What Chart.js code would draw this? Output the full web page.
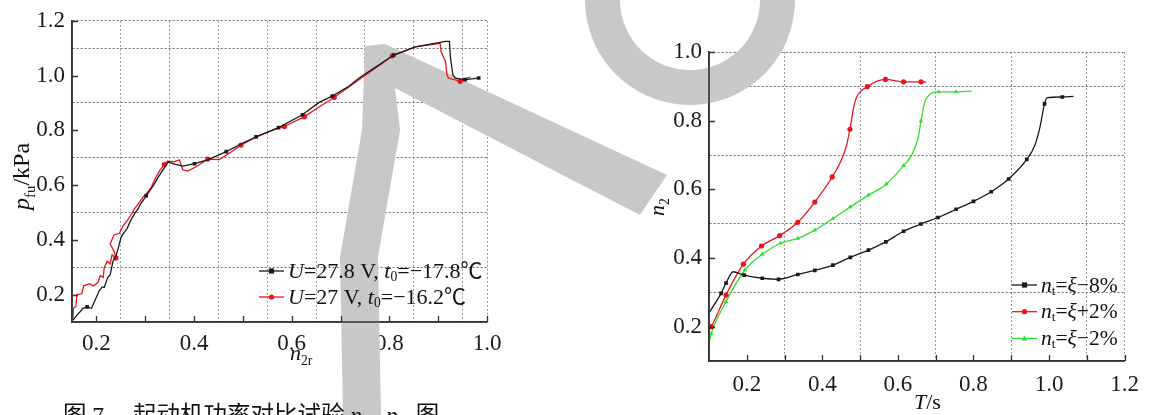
<!DOCTYPE html>
<html>
<head>
<meta charset="utf-8">
<title>起动机功率对比试验</title>
<script src="https://cdn.jsdelivr.net/npm/chart.js@4.4.1/dist/chart.umd.min.js"></script>
<style>
    html, body { margin: 0; padding: 0; background: #fff; overflow: hidden; }
    #wrap { position: relative; width: 1149px; height: 415px; }
    canvas { position: absolute; top: 0; }
    #left { left: 0; }
    #right { left: 580px; }
</style>
</head>
<body>
<div id="wrap">
    <canvas id="left" width="580" height="415"></canvas>
    <canvas id="right" width="569" height="415"></canvas>
</div>
<script>
// ---- left chart: n2r vs p_fu ----
const blackL = [
    [0.152,0.107],[0.160,0.125],[0.168,0.140],[0.172,0.150],[0.181,0.155],[0.190,0.150],[0.196,0.175],
    [0.206,0.215],[0.212,0.228],[0.216,0.226],[0.223,0.262],[0.228,0.272],[0.234,0.322],[0.240,0.340],
    [0.244,0.365],[0.251,0.412],[0.258,0.430],[0.263,0.442],[0.270,0.470],[0.278,0.495],[0.285,0.512],
    [0.290,0.530],[0.302,0.561],[0.310,0.582],[0.318,0.602],[0.326,0.627],[0.336,0.655],[0.347,0.684],
    [0.362,0.676],[0.377,0.669],[0.401,0.678],[0.428,0.692],[0.466,0.722],[0.496,0.750],[0.527,0.776],
    [0.573,0.810],[0.622,0.857],[0.656,0.902],[0.683,0.925],[0.717,0.961],[0.738,0.991],[0.779,1.039],
    [0.809,1.075],[0.853,1.105],[0.915,1.125],[0.923,1.125],[0.925,1.069],[0.930,1.003],[0.935,0.991],
    [0.955,0.985],[0.983,0.991]
];
const blackDotsL = [0.181, 0.302, 0.401, 0.466, 0.527, 0.573, 0.622, 0.683, 0.809, 0.955, 0.983];

const redL = [
    [0.152,0.112],[0.153,0.150],[0.158,0.158],[0.160,0.200],[0.170,0.203],[0.174,0.232],[0.186,0.240],
    [0.194,0.232],[0.203,0.244],[0.208,0.270],[0.214,0.262],[0.216,0.298],[0.222,0.322],[0.228,0.312],
    [0.232,0.345],[0.240,0.334],[0.236,0.360],[0.228,0.385],[0.236,0.418],[0.247,0.424],[0.254,0.450],
    [0.261,0.466],[0.270,0.488],[0.278,0.513],[0.286,0.532],[0.295,0.555],[0.304,0.572],[0.312,0.591],
    [0.320,0.622],[0.329,0.651],[0.339,0.675],[0.346,0.687],[0.360,0.686],[0.370,0.692],[0.377,0.656],
    [0.387,0.651],[0.405,0.668],[0.428,0.695],[0.452,0.693],[0.475,0.720],[0.496,0.746],[0.527,0.776],
    [0.560,0.800],[0.585,0.814],[0.626,0.850],[0.660,0.890],[0.687,0.920],[0.750,1.000],[0.806,1.072],
    [0.853,1.105],[0.901,1.117],[0.904,1.117],[0.906,1.087],[0.915,1.051],[0.918,1.003],[0.921,0.991],
    [0.945,0.979],[0.955,0.988],[0.966,0.994]
];
const redDotsL = [0.240, 0.339, 0.428, 0.496, 0.585, 0.626, 0.687, 0.806, 0.945];

const nTicksL = [0.2, 0.4, 0.6, 0.8, 1.0];
const nGridL = [0.25, 0.35, 0.45, 0.55, 0.65, 0.75, 0.85, 0.95, 1.0];
const nMarksL = [0.2, 0.3, 0.4, 0.5, 0.6, 0.7, 0.8, 0.9, 1.0];
const pTicksL = [0.2, 0.4, 0.6, 0.8, 1.0, 1.2];
const pGridL = [0.3, 0.5, 0.7, 0.9, 1.1, 1.2];

// ---- right chart: T vs n2 ----
const black8 = [
    [0.100,0.240],[0.132,0.297],[0.145,0.327],[0.164,0.360],[0.193,0.350],[0.241,0.341],[0.284,0.338],
    [0.335,0.352],[0.380,0.364],[0.428,0.379],[0.474,0.402],[0.522,0.423],[0.568,0.447],[0.615,0.478],
    [0.661,0.499],[0.706,0.518],[0.754,0.542],[0.800,0.565],[0.847,0.593],[0.893,0.630],[0.941,0.687],
    [0.963,0.730],[0.976,0.782],[0.988,0.849],[0.995,0.867],[1.035,0.869],[1.065,0.871]
];
const black8Dots = [0.132, 0.145, 0.193, 0.241, 0.284, 0.335, 0.380, 0.428, 0.474, 0.522, 0.568, 0.615,
    0.661, 0.706, 0.754, 0.800, 0.847, 0.893, 0.941, 0.988, 1.035];

const red2 = [
    [0.100,0.190],[0.106,0.200],[0.145,0.292],[0.191,0.382],[0.239,0.435],[0.287,0.465],[0.335,0.504],
    [0.380,0.563],[0.426,0.636],[0.450,0.685],[0.463,0.724],[0.473,0.775],[0.484,0.845],[0.491,0.869],
    [0.519,0.899],[0.567,0.920],[0.615,0.913],[0.661,0.913],[0.675,0.913]
];
const red2Dots = [0.106, 0.145, 0.191, 0.239, 0.287, 0.335, 0.380, 0.426, 0.473, 0.519, 0.567, 0.615, 0.661];

const green2 = [
    [0.100,0.325],[0.1015,0.160],[0.106,0.180],[0.145,0.273],[0.195,0.365],[0.241,0.411],[0.289,0.443],
    [0.335,0.457],[0.380,0.481],[0.428,0.515],[0.474,0.549],[0.522,0.583],[0.569,0.615],[0.615,0.669],
    [0.637,0.701],[0.654,0.753],[0.661,0.799],[0.673,0.860],[0.708,0.884],[0.754,0.884],[0.795,0.886]
];
const green2Dots = [0.106, 0.145, 0.195, 0.241, 0.289, 0.335, 0.380, 0.428, 0.474, 0.522, 0.569, 0.615,
    0.661, 0.708, 0.754];

const tTicksR = [0.2, 0.4, 0.6, 0.8, 1.0, 1.2];
const tGridR = [0.3, 0.5, 0.7, 0.9, 1.1, 1.2];
const tMarksR = [0.2, 0.3, 0.4, 0.5, 0.6, 0.7, 0.8, 0.9, 1.0, 1.1, 1.2];
const nTicksR = [0.2, 0.4, 0.6, 0.8, 1.0];
const nGridR = [0.3, 0.5, 0.7, 0.9, 1.0];

const SERIF = "'Liberation Serif', 'Times New Roman', 'Noto Sans CJK SC', serif";
const CJK = "'Noto Sans CJK SC', sans-serif";

const r2 = v => Math.round(v * 100) / 100;
const hasVal = (list, v) => list.some(d => Math.abs(d - v) < 1e-6);

// text runs: i = italic, sub = subscript, f = font family
function drawRuns(ctx, runs, x, y, size) {
    runs.forEach(run => {
        const s = run.sub ? size * 0.62 : size;
        ctx.font = (run.i ? 'italic ' : '') + s + 'px ' + (run.f || SERIF);
        ctx.fillText(run.t, x, y + (run.sub ? size * 0.24 : 0));
        x += ctx.measureText(run.t).width;
    });
}

function drawMarker(ctx, style, x, y, r) {
    ctx.beginPath();
    if (style === 'rect') {
        ctx.rect(x - r, y - r, r * 2, r * 2);
    } else if (style === 'triangle') {
        ctx.moveTo(x, y - r * 1.2);
        ctx.lineTo(x + r * 1.1, y + r * 0.8);
        ctx.lineTo(x - r * 1.1, y + r * 0.8);
        ctx.closePath();
    } else {
        ctx.arc(x, y, r, 0, Math.PI * 2);
    }
    ctx.fill();
}

// grey watermark strokes across the page, page coordinates shifted by the canvas offset
const watermark = {
    id: 'watermark',
    beforeDatasetsDraw(chart, args, opts) {
        const ctx = chart.ctx;
        ctx.save();
        ctx.translate(-opts.offset, 0);
        ctx.fillStyle = 'rgb(200,200,200)';
        ctx.beginPath();
        ctx.moveTo(365, 46);
        ctx.lineTo(385, 44);
        ctx.lineTo(667, 175);
        ctx.lineTo(640, 215);
        ctx.lineTo(395, 88);
        ctx.lineTo(400, 130);
        ctx.lineTo(378, 257);
        ctx.lineTo(381, 415);
        ctx.lineTo(343, 415);
        ctx.lineTo(340, 257);
        ctx.lineTo(362, 130);
        ctx.closePath();
        ctx.fill();
        ctx.beginPath();
        ctx.arc(690, 0, 105, 0, Math.PI, false);
        ctx.arc(690, 0, 70, Math.PI, 0, true);
        ctx.closePath();
        ctx.fill();
        ctx.restore();
    }
};

// tick marks pointing into the plot
const inwardTicks = {
    id: 'inwardTicks',
    afterDatasetsDraw(chart, args, opts) {
        const { ctx, chartArea: a, scales: { x, y } } = chart;
        ctx.save();
        ctx.strokeStyle = '#333';
        ctx.lineWidth = 1.3;
        ctx.beginPath();
        opts.x.forEach(v => {
            const px = Math.round(x.getPixelForValue(v)) + 0.5;
            ctx.moveTo(px, a.bottom);
            ctx.lineTo(px, a.bottom - 6);
        });
        opts.y.forEach(v => {
            const py = Math.round(y.getPixelForValue(v)) + 0.5;
            ctx.moveTo(a.left, py);
            ctx.lineTo(a.left + 6, py);
        });
        ctx.stroke();
        // axis lines again, above the watermark
        ctx.lineWidth = 1.6;
        ctx.beginPath();
        ctx.moveTo(a.left, a.top);
        ctx.lineTo(a.left, a.bottom);
        ctx.lineTo(a.right, a.bottom);
        ctx.stroke();
        ctx.restore();
    }
};

// legend boxes inside the plot area
const boxLegend = {
    id: 'boxLegend',
    afterDatasetsDraw(chart, args, opts) {
        const ctx = chart.ctx;
        ctx.save();
        opts.rows.forEach((row, i) => {
            const ds = chart.data.datasets[row.dataset];
            const y = opts.y + i * opts.gap;
            ctx.strokeStyle = ds.borderColor;
            ctx.fillStyle = ds.borderColor;
            ctx.lineWidth = 1.3;
            ctx.beginPath();
            ctx.moveTo(opts.x0, y);
            ctx.lineTo(opts.x1, y);
            ctx.stroke();
            drawMarker(ctx, ds.pointStyle, (opts.x0 + opts.x1) / 2, y, 2.6);
            ctx.fillStyle = '#111';
            ctx.textBaseline = 'middle';
            drawRuns(ctx, row.runs, opts.x1 + 4, y + 1, opts.size);
        });
        ctx.restore();
    }
};

// axis titles and caption
const freeText = {
    id: 'freeText',
    afterDraw(chart, args, opts) {
        const ctx = chart.ctx;
        ctx.save();
        ctx.fillStyle = '#111';
        ctx.textBaseline = 'alphabetic';
        opts.items.forEach(item => {
            ctx.save();
            ctx.translate(item.x, item.y);
            if (item.rot) ctx.rotate(item.rot);
            drawRuns(ctx, item.runs, 0, 0, item.size);
            ctx.restore();
        });
        ctx.restore();
    }
};

function axis(min, max, labels, grid, gridColor, fitKey, fitVal, pad) {
    return {
        type: 'linear',
        min: min,
        max: max,
        afterBuildTicks: s => {
            const vals = [...new Set([...labels, ...grid].map(r2))].sort((a, b) => a - b);
            s.ticks = vals.map(v => ({ value: v }));
        },
        afterFit: s => { s[fitKey] = fitVal; },
        grid: {
            drawTicks: false,
            lineWidth: 1,
            color: c => (c.tick && hasVal(grid, r2(c.tick.value))) ? gridColor : 'rgba(0,0,0,0)'
        },
        border: { display: true, color: '#333', width: 1.6, dash: [2, 2] },
        ticks: {
            autoSkip: false,
            maxRotation: 0,
            padding: pad,
            color: '#1a1a1a',
            font: { family: SERIF, size: 23 },
            callback: v => hasVal(labels, r2(v)) ? v.toFixed(1) : ''
        }
    };
}

function series(label, data, dots, color, style, tension) {
    return {
        label: label,
        data: data,
        showLine: true,
        borderColor: color,
        backgroundColor: color,
        borderWidth: 1.3,
        tension: tension,
        cubicInterpolationMode: tension ? 'monotone' : 'default',
        pointStyle: style,
        pointRadius: c => hasVal(dots, c.raw[0]) ? 2.6 : 0,
        pointBorderWidth: 0,
        pointBackgroundColor: color
    };
}

const baseOptions = {
    responsive: false,
    animation: false,
    events: []
};

new Chart(document.getElementById('left'), {
    type: 'scatter',
    data: {
        datasets: [
            series('U=27.8 V, t0=−17.8℃', blackL, blackDotsL, '#1a1a1a', 'rect', 0),
            series('U=27 V, t0=−16.2℃', redL, redDotsL, '#e8141e', 'circle', 0)
        ]
    },
    options: {
        ...baseOptions,
        layout: { padding: { top: 15, right: 93, left: 0, bottom: 0 } },
        scales: {
            x: axis(0.15, 1.0, nTicksL, nGridL, '#9a9a9a', 'height', 93, 8),
            y: axis(0.1, 1.2, pTicksL, pGridL, '#6a6a6a', 'width', 72, 7)
        },
        plugins: {
            legend: { display: false },
            tooltip: { enabled: false },
            watermark: { offset: 0 },
            inwardTicks: { x: nMarksL, y: pTicksL },
            boxLegend: {
                x0: 259, x1: 284, y: 271, gap: 26, size: 22,
                rows: [
                    { dataset: 0, runs: [{ t: 'U', i: 1 }, { t: '=27.8 V, ' }, { t: 't', i: 1 }, { t: '0', sub: 1 }, { t: '=−17.8℃' }] },
                    { dataset: 1, runs: [{ t: 'U', i: 1 }, { t: '=27 V, ' }, { t: 't', i: 1 }, { t: '0', sub: 1 }, { t: '=−16.2℃' }] }
                ]
            },
            freeText: {
                items: [
                    { x: 29, y: 210, rot: -Math.PI / 2, size: 24, runs: [{ t: 'p', i: 1 }, { t: 'fu', sub: 1 }, { t: '/kPa' }] },
                    { x: 290, y: 360, size: 22, runs: [{ t: 'n', i: 1 }, { t: '2r', sub: 1 }] },
                    { x: 63, y: 423, size: 23.5, runs: [
                        { t: '图', f: CJK }, { t: ' 7' }, { t: '　 ', f: CJK },
                        { t: '起动机功率对比试验', f: CJK }, { t: ' ' },
                        { t: 'n', i: 1 }, { t: '2r', sub: 1 }, { t: '–' }, { t: 'p', i: 1 }, { t: 'fu', sub: 1 },
                        { t: ' ' }, { t: '图', f: CJK }
                    ] }
                ]
            }
        }
    },
    plugins: [watermark, inwardTicks, boxLegend, freeText]
});

new Chart(document.getElementById('right'), {
    type: 'scatter',
    data: {
        datasets: [
            series('nt=ξ−8%', black8, black8Dots, '#1a1a1a', 'rect', 0.4),
            series('nt=ξ+2%', red2, red2Dots, '#e8141e', 'circle', 0.4),
            series('nt=ξ−2%', green2, green2Dots, '#2ee02e', 'triangle', 0.4)
        ]
    },
    options: {
        ...baseOptions,
        layout: { padding: { top: 52, right: 22, left: 0, bottom: 0 } },
        scales: {
            x: axis(0.1, 1.2, tTicksR, tGridR, '#9a9a9a', 'height', 54, 10),
            y: axis(0.1, 1.0, nTicksR, nGridR, '#6a6a6a', 'width', 129, 7)
        },
        plugins: {
            legend: { display: false },
            tooltip: { enabled: false },
            watermark: { offset: 580 },
            inwardTicks: { x: tMarksR, y: nTicksR },
            boxLegend: {
                x0: 432, x1: 457, y: 285, gap: 26.7, size: 21.5,
                rows: [
                    { dataset: 0, runs: [{ t: 'n', i: 1 }, { t: 't', sub: 1 }, { t: '=' }, { t: 'ξ', i: 1 }, { t: '−8%' }] },
                    { dataset: 1, runs: [{ t: 'n', i: 1 }, { t: 't', sub: 1 }, { t: '=' }, { t: 'ξ', i: 1 }, { t: '+2%' }] },
                    { dataset: 2, runs: [{ t: 'n', i: 1 }, { t: 't', sub: 1 }, { t: '=' }, { t: 'ξ', i: 1 }, { t: '−2%' }] }
                ]
            },
            freeText: {
                items: [
                    { x: 84, y: 216, rot: -Math.PI / 2, size: 22, runs: [{ t: 'n', i: 1 }, { t: '2', sub: 1 }] },
                    { x: 334, y: 409, size: 22, runs: [{ t: 'T', i: 1 }, { t: '/s' }] }
                ]
            }
        }
    },
    plugins: [watermark, inwardTicks, boxLegend, freeText]
});
</script>
</body>
</html>
